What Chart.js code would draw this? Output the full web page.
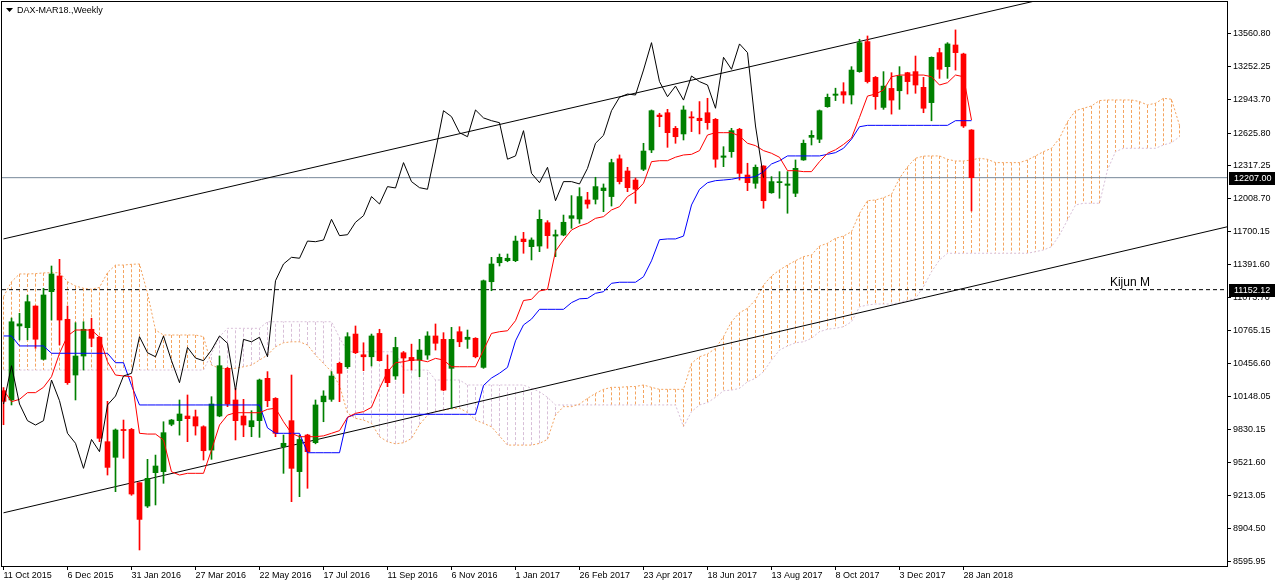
<!DOCTYPE html>
<html>
<head>
<meta charset="utf-8">
<script src="https://cdn.jsdelivr.net/npm/chart.js@4.4.1/dist/chart.umd.min.js"></script>
<style>
  html, body { margin: 0; padding: 0; background: #fff; }
  #chart { display: block; }
</style>
</head>
<body>
<canvas id="chart" width="1276" height="585"></canvas>
<script>
// weekly candles, index 0 = week of 11 Oct 2015
const opens = [10200,10113,10810,10794,10998,10496,11133,11281,10873,10348,10527,10779,10704,9720,9573,9835,9836,9334,9114,9428,
  9438,9884,9918,9962,9955,9861,9641,9962,10411,10113,9962,9861,9918,10317,10128,9673,9918,9438,9783,9711,
  10096,10119,10458,10426,10734,10539,10520,10740,10402,10339,10558,10514,10489,10536,10716,10684,10411,10756,10684,10694,
  10420,11227,11406,11425,11425,11629,11557,11563,11783,11657,11667,11824,11818,11997,12003,12085,12029,12385,12270,12185,
  12286,12468,12797,12819,12672,12619,12776,12767,12819,12757,12399,12452,12663,12232,12154,12317,12065,12160,12135,12060,
  12374,12587,12569,12876,12983,13017,12986,13206,13489,13152,12869,13048,13026,13196,13206,13058,12914,13385,13253,13457,
  13372,12656];
const highs = [10230,10885,10930,11100,11000,11165,11375,11438,10998,10841,10850,10882,10710,10100,9840,9924,9845,9334,9554,9594,
  9908,9930,10113,10160,10018,9870,10144,10527,10420,10222,10119,10012,10310,10380,10135,9783,10348,9783,9790,10113,
  10200,10380,10470,10747,10810,10652,10734,10779,10536,10704,10570,10639,10684,10756,10829,10747,10797,10803,10772,10700,
  11243,11457,11488,11488,11657,11692,11640,11903,11802,11714,11855,12038,12113,12069,12211,12148,12381,12421,12305,12204,
  12531,12845,12814,12851,12690,12883,12829,12924,12955,12765,12499,12672,12672,12343,12327,12320,12217,12264,12264,12374,
  12562,12650,12845,12995,13050,13102,13253,13511,13542,13160,13206,13196,13253,13200,13353,13152,13345,13426,13479,13599,
  13380,12660];
const lows = [9880,10066,10678,10680,10600,10490,10866,10631,10260,10113,10395,10615,9720,9406,9249,9564,9215,8700,9100,9124,
  9328,9870,9782,9720,9782,9547,9554,9955,10050,9736,9767,9767,9761,10050,9767,9422,9155,9202,9281,9700,
  9908,10100,10097,10410,10550,10389,10433,10480,10238,10307,10175,10395,10332,10496,10583,10200,10035,10615,10599,10510,
  10411,11142,11375,11415,11416,11495,11432,11510,11542,11463,11660,11730,11777,11919,11959,11887,11940,12148,12075,11965,
  12273,12443,12687,12493,12531,12562,12641,12619,12663,12305,12311,12399,12185,12085,12107,11919,12060,12013,11872,12028,
  12370,12515,12537,12870,12933,12908,12901,13200,13099,12851,12851,12806,12851,12995,13002,12819,12743,13143,13143,13221,
  12680,11893];
const closes = [10100,10850,10830,11039,10685,11102,11300,10866,10276,10527,10779,10694,9752,9478,9830,9825,9227,8988,9375,9491,
  9805,9924,9981,9937,9868,9635,10075,10436,10075,9918,9877,9918,10301,10106,9799,9705,9469,9741,9626,10066,
  10150,10339,10364,10709,10558,10520,10716,10483,10276,10608,10508,10483,10583,10716,10647,10206,10684,10661,10704,10520,
  11236,11394,11457,11448,11610,11604,11620,11815,11661,11670,11787,11849,12029,11959,12123,12110,12349,12170,12113,12098,
  12458,12838,12782,12631,12593,12845,12770,12744,12725,12381,12412,12650,12248,12160,12305,11990,12170,12170,12148,12295,
  12531,12606,12838,12964,12995,12986,13221,13479,13112,12970,13070,12938,13165,13112,13080,12861,13341,13228,13467,13385,
  12694,12207];

// Ichimoku lines
const tenkan = [10207,10097,10119,10182,10182,10232,10332,10553,10716,10772,10772,10772,10704,10473,10348,10339,10332,9799,9792,9792,
  9736,9437,9406,9422,9422,9422,9641,9877,9971,9993,9993,9993,9993,10025,10035,9908,9799,9767,9767,9767,
  9775,9799,9824,9950,9987,10003,10044,10222,10379,10464,10473,10489,10489,10473,10505,10489,10426,10426,10426,10426,
  10583,10740,10756,10765,10860,11050,11061,11140,11155,11515,11620,11714,11752,11777,11824,11840,11903,11934,12029,12075,
  12154,12358,12367,12367,12400,12421,12427,12462,12609,12631,12631,12631,12600,12531,12509,12462,12437,12399,12273,12273,
  12264,12264,12358,12437,12470,12520,12580,12775,12976,12995,13033,13158,13174,13174,13174,13174,13158,13080,13102,13174,
  13158,12750];
const kijun = [10716,10716,10622,10622,10622,10622,10553,10553,10553,10553,10553,10553,10553,10553,10464,10464,10250,10066,10066,10066,
  10066,10066,10066,10066,10066,10066,10066,10066,10066,10066,10066,10066,10066,9850,9799,9799,9799,9799,9616,9616,
  9616,9616,9616,9950,9978,9978,9978,9978,9978,9978,9978,9978,9978,9978,9978,9978,9978,9978,9978,9978,
  10250,10320,10365,10420,10670,10820,10875,10967,10967,10967,10967,11030,11066,11070,11118,11133,11212,11222,11222,11222,
  11274,11424,11623,11630,11630,11657,11950,12097,12160,12179,12185,12192,12207,12207,12217,12264,12336,12367,12412,12412,
  12412,12412,12412,12427,12443,12484,12569,12687,12700,12700,12700,12700,12700,12700,12700,12700,12700,12700,12700,12744,
  12744,12744];
// Senkou spans, already shifted 26 weeks forward (index 0..147)
const senkouA = [11086,11227,11300,11300,11303,11310,11312,11312,11227,11187,11165,11155,11174,11312,11384,11384,11391,11394,11118,10772,
  10725,10725,10725,10725,10725,10709,10442,10411,10411,10411,10426,10442,10489,10536,10614,10652,10661,10661,10631,10536,
  10458,10379,10250,9990,9940,9924,9893,9767,9720,9700,9710,9750,9880,9970,10005,10018,10030,10035,9995,9924,
  9893,9861,9773,9688,9688,9688,9688,9704,9742,9971,10050,10050,10075,10128,10175,10213,10232,10232,10238,10240,
  10254,10232,10213,10213,10213,10213,10458,10520,10546,10599,10709,10850,10935,10976,11055,11196,11281,11337,11384,11425,
  11463,11479,11563,11589,11636,11657,11698,11870,11990,11997,12018,12050,12201,12310,12390,12410,12412,12412,12380,12364,
  12364,12374,12390,12380,12349,12349,12349,12349,12374,12412,12452,12484,12578,12735,12838,12861,12883,12933,12939,12939,
  12939,12939,12924,12892,12908,12955,12946,12700];
const senkouB = [10395,10395,10395,10395,10395,10395,10395,10395,10395,10395,10395,10395,10395,10395,10395,10395,10395,10395,10395,10395,
  10395,10395,10395,10395,10395,10395,10550,10709,10788,10788,10788,10788,10788,10850,10850,10850,10850,10850,10850,10850,
  10850,10850,10700,10567,10567,10567,10567,10567,10567,10567,10395,10395,10395,10395,10301,10301,10301,10301,10254,10254,
  10254,10254,10254,10254,10254,10254,10222,10191,10138,10066,10066,10066,10066,10066,10066,10066,10066,10066,10066,10066,
  10066,10066,10066,10066,10066,9861,10003,10066,10088,10138,10200,10206,10222,10285,10317,10379,10489,10583,10621,10652,
  10661,10694,10756,10779,10788,10803,10850,10991,11007,11017,11017,11017,11029,11055,11070,11180,11321,11432,11495,11495,
  11495,11495,11495,11495,11495,11495,11495,11495,11495,11510,11526,11557,11667,11808,11950,11966,11966,11966,12280,12452,
  12484,12484,12484,12484,12484,12515,12537,12593];

// axis labels
const dateLabels = ['11 Oct 2015','6 Dec 2015','31 Jan 2016','27 Mar 2016','22 May 2016','17 Jul 2016','11 Sep 2016','6 Nov 2016',
  '1 Jan 2017','26 Feb 2017','23 Apr 2017','18 Jun 2017','13 Aug 2017','8 Oct 2017','3 Dec 2017','28 Jan 2018'];
const dateIdx = [0,8,16,24,32,40,48,56,64,72,80,88,96,104,112,120];
const priceTicks = [8595.95,8904.50,9213.05,9521.60,9830.15,10148.05,10456.60,10765.15,11073.70,11391.60,11700.15,
  12008.70,12317.25,12625.80,12943.70,13252.25,13560.80];

// drawn objects: channel lines and horizontal levels
const upperChannel = [[0, 11630], [153, 14290]];
const lowerChannel = [[0, 9050], [153, 11745]];
const lastPrice = 12207.00;
const kijunM = 11152.12;
const kijunMLabel = 'Kijun M';
const title = 'DAX-MAR18.,Weekly';

const xMin = -0.1875, xMax = 152.9375;
const yMin = 8549, yMax = 13862;

const UP = '#008000', DOWN = '#ff0000';
const candleColor = closes.map((c, i) => c >= opens[i] ? UP : DOWN);
const pts = arr => arr.map((v, i) => ({ x: i, y: v }));

// cloud hatching: one vertical dashed stroke per week, coloured by the span on top
const hatchA = [], hatchB = [];
senkouA.forEach((a, i) => {
  const b = senkouB[i];
  const dst = a >= b ? hatchA : hatchB;
  dst.push({ x: i, y: a }, { x: i, y: b }, { x: i, y: null });
});

const lineDs = (data, color, order, extra) => Object.assign({
  type: 'line', data, borderColor: color, borderWidth: 1, pointRadius: 0,
  tension: 0, fill: false, spanGaps: false, order
}, extra || {});

const font = { family: 'Liberation Sans, Arial, sans-serif', size: 9 };

const noPad = s => { s.paddingTop = 0; s.paddingBottom = 0; s.paddingLeft = 0; s.paddingRight = 0; };

const frame = {
  id: 'frame',
  beforeDraw(chart) {
    const c = chart.ctx;
    c.save();
    c.fillStyle = '#fff';
    c.fillRect(0, 0, chart.width, chart.height);
    c.restore();
  },
  afterDraw(chart) {
    const c = chart.ctx, a = chart.chartArea;
    const xs = chart.scales.x, ys = chart.scales.y;
    c.save();
    c.strokeStyle = '#000';
    c.lineWidth = 1;
    c.strokeRect(a.left - 0.5, a.top - 0.5, a.right - a.left + 1, a.bottom - a.top + 1);

    // title
    c.fillStyle = '#000';
    c.beginPath();
    c.moveTo(6, 8); c.lineTo(13, 8); c.lineTo(9.5, 12); c.closePath();
    c.fill();
    c.font = '9px ' + font.family;
    c.textBaseline = 'middle';
    c.fillText(title, 17, 10.5);

    // price boxes on the axis
    [lastPrice, kijunM].forEach(p => {
      const y = Math.round(ys.getPixelForValue(p));
      c.fillStyle = '#000';
      c.fillRect(a.right + 2, y - 6, 46, 13);
      c.fillStyle = '#fff';
      c.textAlign = 'left';
      c.fillText(p.toFixed(2), a.right + 7, y + 0.5);
    });

    // Kijun M text
    c.fillStyle = '#000';
    c.font = '12px ' + font.family;
    c.textBaseline = 'bottom';
    c.fillText(kijunMLabel, xs.getPixelForValue(138.3), ys.getPixelForValue(kijunM) - 1);
    c.restore();
  }
};

new Chart(document.getElementById('chart'), {
  type: 'bar',
  data: {
    datasets: [
      lineDs(hatchA, '#f4a460', 12, { borderDash: [3, 2] }),
      lineDs(hatchB, '#d8bfd8', 12, { borderDash: [3, 2] }),
      lineDs(pts(senkouA), '#f4a460', 11, { borderDash: [2, 2] }),
      lineDs(pts(senkouB), '#d8bfd8', 11, { borderDash: [2, 2] }),
      lineDs([{ x: xMin, y: lastPrice }, { x: xMax, y: lastPrice }], '#778899', 10),
      lineDs([{ x: xMin, y: kijunM }, { x: xMax, y: kijunM }], '#000', 10, { borderDash: [4, 3] }),
      lineDs(upperChannel.map(p => ({ x: p[0], y: p[1] })), '#000', 9),
      lineDs(lowerChannel.map(p => ({ x: p[0], y: p[1] })), '#000', 9),
      {
        type: 'bar', order: 8, grouped: false, barThickness: 1,
        data: highs.map((h, i) => ({ x: i, y: [lows[i], h] })),
        backgroundColor: candleColor, borderWidth: 0
      },
      {
        type: 'bar', order: 7, grouped: false, barThickness: 5, minBarLength: 1,
        data: opens.map((o, i) => ({ x: i, y: [o, closes[i]] })),
        backgroundColor: candleColor, borderWidth: 0
      },
      lineDs(pts(kijun), '#0000ff', 4),
      lineDs(pts(tenkan), '#ff0000', 3),
      // chikou: close plotted 26 weeks back
      lineDs(closes.slice(26).map((c, j) => ({ x: j, y: c })), '#000', 2)
    ]
  },
  options: {
    responsive: false,
    animation: false,
    devicePixelRatio: 1,
    layout: { padding: { left: 2, top: 2, right: 0, bottom: 0 } },
    plugins: { legend: { display: false }, tooltip: { enabled: false } },
    scales: {
      x: {
        type: 'linear', min: xMin, max: xMax, offset: false,
        afterFit: s => { s.height = 19; noPad(s); },
        afterBuildTicks: s => { s.ticks = dateIdx.map(v => ({ value: v })); },
        grid: { display: true, drawOnChartArea: false, drawTicks: true, tickLength: 4, color: '#000', offset: false },
        border: { display: true, color: '#000' },
        ticks: {
          autoSkip: false, maxRotation: 0, align: 'start', padding: 0, color: '#000', font,
          callback: v => dateLabels[dateIdx.indexOf(v)]
        }
      },
      y: {
        type: 'linear', position: 'right', min: yMin, max: yMax,
        afterFit: s => { s.width = 49; noPad(s); },
        afterBuildTicks: s => { s.ticks = priceTicks.map(v => ({ value: v })); },
        grid: { display: true, drawOnChartArea: false, drawTicks: true, tickLength: 4, color: '#000' },
        border: { display: true, color: '#000' },
        ticks: { autoSkip: false, padding: 2, color: '#000', font, callback: v => v.toFixed(2) }
      }
    }
  },
  plugins: [frame]
});
</script>
</body>
</html>
